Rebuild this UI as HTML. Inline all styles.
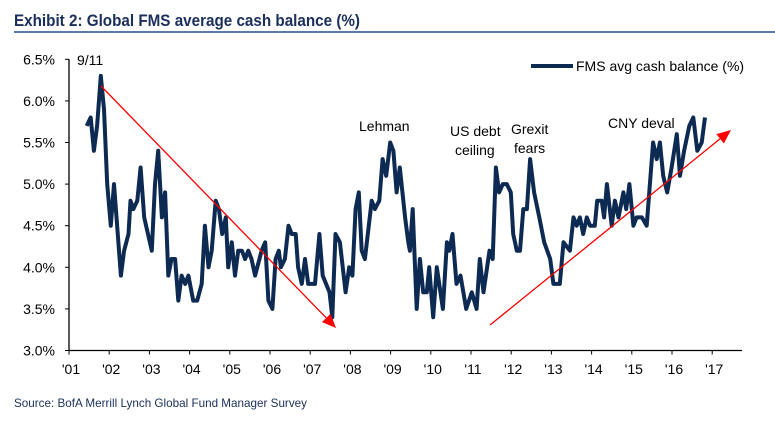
<!DOCTYPE html>
<html><head><meta charset="utf-8"><style>
body{margin:0;background:#fff;width:775px;height:429px;overflow:hidden}
svg{display:block;font-family:"Liberation Sans",Arial,sans-serif}
</style></head><body>
<svg width="775" height="429">
<text x="14" y="26" font-size="17" font-weight="bold" fill="#1b2f5c" textLength="346" lengthAdjust="spacingAndGlyphs">Exhibit 2: Global FMS average cash balance (%)</text>
<line x1="14" y1="32" x2="775" y2="32" stroke="#5b7ca8" stroke-width="2"/>
<g id="axes"></g>
<g id="series"></g>
<g id="notes"></g>
<text x="14" y="407" font-size="12" fill="#1b2f5c" textLength="293" lengthAdjust="spacingAndGlyphs">Source: BofA Merrill Lynch Global Fund Manager Survey</text>
</svg>
<script>
const years=['\'01','\'02','\'03','\'04','\'05','\'06','\'07','\'08','\'09','\'10','\'11','\'12','\'13','\'14','\'15','\'16','\'17'];
const yTicks=[3.0,3.5,4.0,4.5,5.0,5.5,6.0,6.5];
const dates=[2001.44,2001.54,2001.62,2001.70,2001.79,2001.87,2001.95,2002.04,2002.12,2002.29,2002.37,2002.48,2002.53,2002.60,2002.70,2002.78,2002.87,2003.06,2003.14,2003.22,2003.31,2003.39,2003.47,2003.55,2003.64,2003.72,2003.80,2003.89,2003.97,2004.09,2004.19,2004.30,2004.38,2004.47,2004.55,2004.65,2004.73,2004.81,2004.90,2004.96,2005.05,2005.13,2005.21,2005.30,2005.38,2005.46,2005.54,2005.63,2005.79,2005.88,2005.96,2006.06,2006.14,2006.22,2006.27,2006.37,2006.46,2006.54,2006.64,2006.70,2006.79,2006.87,2006.95,2007.12,2007.23,2007.31,2007.48,2007.55,2007.63,2007.74,2007.88,2007.97,2008.05,2008.13,2008.21,2008.28,2008.36,2008.53,2008.61,2008.72,2008.80,2008.89,2008.99,2009.07,2009.15,2009.23,2009.36,2009.44,2009.48,2009.55,2009.65,2009.73,2009.81,2009.90,2009.96,2010.06,2010.15,2010.30,2010.40,2010.46,2010.54,2010.64,2010.74,2010.88,2011.02,2011.14,2011.22,2011.31,2011.46,2011.54,2011.62,2011.70,2011.79,2011.89,2011.99,2012.05,2012.14,2012.22,2012.30,2012.39,2012.47,2012.57,2012.70,2012.82,2012.97,2013.05,2013.21,2013.30,2013.46,2013.55,2013.63,2013.71,2013.79,2013.88,2013.96,2014.08,2014.14,2014.25,2014.31,2014.38,2014.50,2014.58,2014.67,2014.79,2014.86,2014.94,2015.04,2015.12,2015.25,2015.37,2015.53,2015.62,2015.70,2015.78,2015.88,2015.99,2016.12,2016.20,2016.30,2016.43,2016.53,2016.63,2016.74,2016.82];
const cash=[5.7,5.8,5.4,5.7,6.3,5.9,5.0,4.5,5.0,3.9,4.2,4.4,4.8,4.7,4.8,5.2,4.6,4.2,5.0,5.4,4.6,4.9,3.9,4.1,4.1,3.6,3.9,3.8,3.9,3.6,3.6,3.8,4.5,4.0,4.2,4.8,4.7,4.4,4.6,4.0,4.3,3.9,4.2,4.2,4.1,4.2,4.1,3.9,4.2,4.3,3.6,3.5,4.1,4.2,4.0,4.1,4.5,4.4,4.4,4.0,3.8,4.1,3.8,3.8,4.4,3.9,3.7,3.4,4.4,4.3,3.7,4.0,3.9,4.7,4.9,4.2,4.1,4.8,4.7,4.8,5.3,5.1,5.5,5.4,4.9,5.2,4.6,4.3,4.2,4.7,3.5,4.1,3.7,3.7,4.0,3.4,4.0,3.5,4.3,4.2,4.4,3.8,3.9,3.5,3.7,3.5,4.1,3.7,4.2,4.1,5.2,4.9,5.0,5.0,4.9,4.4,4.2,4.2,4.7,4.7,5.3,4.9,4.6,4.3,4.1,3.8,3.8,4.3,4.2,4.6,4.5,4.6,4.4,4.6,4.5,4.5,4.8,4.8,4.6,5.0,4.5,4.8,4.6,4.9,4.7,5.0,4.5,4.6,4.6,4.5,5.5,5.3,5.5,5.1,4.9,5.2,5.6,5.1,5.4,5.7,5.8,5.4,5.5,5.8];
const NS='http://www.w3.org/2000/svg';
const x0=69,xPer=40.2,yBase=350.5,yPer=83.2;
function X(d){return x0+(d-2001)*xPer;}
function Y(v){return yBase-(v-3.0)*yPer;}
function mk(tag,attrs,parent,txt){const e=document.createElementNS(NS,tag);for(const k in attrs)e.setAttribute(k,attrs[k]);if(txt!==undefined)e.textContent=txt;parent.appendChild(e);return e;}
const ax=document.getElementById('axes');
let e=mk('line',{x1:x0,y1:Y(6.5),x2:x0,y2:yBase,stroke:'#000','stroke-width':1.3},ax);


e=mk('line',{x1:x0,y1:yBase,x2:742,y2:yBase,stroke:'#000','stroke-width':1.3},ax);


yTicks.forEach(t=>{
 mk('line',{x1:x0-4,y1:Y(t),x2:x0,y2:Y(t),stroke:'#000'},ax);
 e=mk('text',{x:55,y:Y(t)+5,'font-size':14,'text-anchor':'end',fill:'#000'},ax,t.toFixed(1)+'%');
 
 
});
years.forEach((l,i)=>{
 const xx=X(2001+i);
 mk('line',{x1:xx,y1:yBase,x2:xx,y2:yBase+4,stroke:'#000'},ax);
 e=mk('text',{x:xx+2,y:374,'font-size':14,'text-anchor':'middle',fill:'#000'},ax,l);
 
 
});
const sg=document.getElementById('series');
const pts=dates.map((d,i)=>X(d).toFixed(1)+','+Y(cash[i]).toFixed(1)).join(' ');
e=mk('polyline',{points:pts,fill:'none',stroke:'#0d2a52','stroke-width':4,'stroke-linejoin':'round'},sg);


e=mk('line',{x1:531,y1:66,x2:573,y2:66,stroke:'#0d2a52','stroke-width':4},sg);


e=mk('text',{x:576,y:71,'font-size':14,fill:'#000'},sg,'FMS avg cash balance (%)');


const ng=document.getElementById('notes');
function arrow(x1,y1,x2,y2,name){
 const g=mk('g',{},ng);
 
 
 const a=Math.atan2(y2-y1,x2-x1),L=14,W=6;
 const bx=x2-L*Math.cos(a),by=y2-L*Math.sin(a);
 mk('line',{x1:x1,y1:y1,x2:bx,y2:by,stroke:'#f00','stroke-width':1.3},g);
 mk('polygon',{points:`${x2},${y2} ${bx+W*Math.sin(a)},${by-W*Math.cos(a)} ${bx-W*Math.sin(a)},${by+W*Math.cos(a)}`,fill:'#f00'},g);
}
arrow(101,86,336,328,'downtrend-arrow');
arrow(490,325,731,130,'uptrend-arrow');
const notes=[['9/11',77,65],['Lehman',359,131],['US debt',450,136],['ceiling',455,155],['Grexit',511,134],['fears',514,153],['CNY deval',608,128]];
notes.forEach(n=>{
 e=mk('text',{x:n[1],y:n[2],'font-size':14,fill:'#000'},ng,n[0]);
 
 
});
</script>
</body></html>
